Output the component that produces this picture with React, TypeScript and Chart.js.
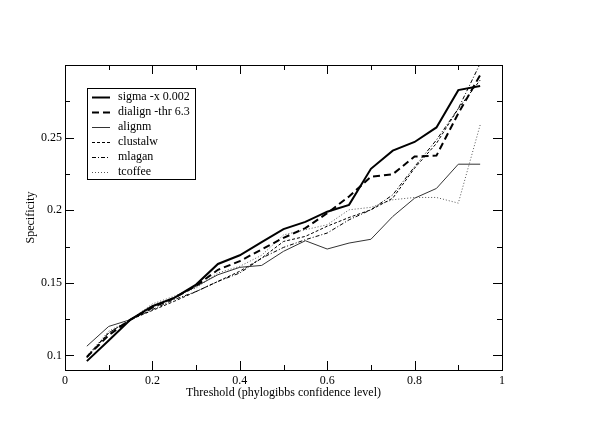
import React, { useEffect, useRef } from "react";
import { Chart, registerables } from "chart.js";

Chart.register(...registerables);

const thresholds = [0.05, 0.1, 0.15, 0.2, 0.25, 0.3, 0.35, 0.4, 0.45, 0.5, 0.55, 0.6, 0.65, 0.7, 0.75, 0.8, 0.85, 0.9, 0.95];
const sigma = [0.0961, 0.1103, 0.1247, 0.1339, 0.1396, 0.1488, 0.163, 0.169, 0.178, 0.187, 0.192, 0.199, 0.2037, 0.2285, 0.241, 0.247, 0.257, 0.2827, 0.2855];
const dialign = [0.099, 0.114, 0.1247, 0.133, 0.1396, 0.148, 0.159, 0.165, 0.173, 0.181, 0.1877, 0.198, 0.2095, 0.223, 0.2248, 0.237, 0.2376, 0.2667, 0.293];
const alignm = [0.1064, 0.12, 0.1247, 0.134, 0.1396, 0.1476, 0.1556, 0.1607, 0.162, 0.1717, 0.179, 0.1733, 0.1774, 0.18, 0.1957, 0.2083, 0.215, 0.2317, 0.2317];
const clustalw = [0.0984, 0.1156, 0.1247, 0.131, 0.1373, 0.144, 0.151, 0.158, 0.167, 0.1785, 0.182, 0.189, 0.195, 0.2003, 0.2083, 0.229, 0.246, 0.27, 0.2896];
const mlagan = [0.0995, 0.1156, 0.1247, 0.1316, 0.1385, 0.144, 0.151, 0.1568, 0.167, 0.1744, 0.1797, 0.1843, 0.1934, 0.2003, 0.2106, 0.23, 0.2484, 0.27, 0.301];
const tcoffee = [0.0995, 0.1167, 0.1247, 0.1355, 0.1408, 0.1465, 0.1568, 0.1614, 0.169, 0.183, 0.1866, 0.19, 0.2003, 0.202, 0.2072, 0.2088, 0.2088, 0.2049, 0.2587];

const seriesNames = ["sigma -x 0.002", "dialign -thr 6.3", "alignm", "clustalw", "mlagan", "tcoffee"];

const xMajorTicks = [0, 0.2, 0.4, 0.6, 0.8, 1];
const xMinorTicks = [0.1, 0.3, 0.5, 0.7, 0.9];
const yMajorTicks = [0.1, 0.15, 0.2, 0.25];
const yMinorTicks = [0.125, 0.175, 0.225, 0.275];

const FONT = "'Liberation Serif', 'Times New Roman', serif";

const fmt = (v: number) => String(Number(v.toFixed(3)));

const framePlugin = {
  id: "frameTicks",
  afterDraw(chart: any) {
    const { ctx, chartArea: a, scales } = chart;
    const xs = scales.x;
    const ys = scales.y;
    ctx.save();
    ctx.strokeStyle = "#000";
    ctx.lineWidth = 1;
    ctx.setLineDash([]);
    ctx.strokeRect(Math.round(a.left) + 0.5, Math.round(a.top) + 0.5, Math.round(a.right - a.left), Math.round(a.bottom - a.top));
    const drawX = (vals: number[], len: number) => {
      vals.forEach((v) => {
        const px = Math.round(xs.getPixelForValue(v)) + 0.5;
        ctx.beginPath();
        ctx.moveTo(px, a.bottom);
        ctx.lineTo(px, a.bottom - len);
        ctx.moveTo(px, a.top);
        ctx.lineTo(px, a.top + len);
        ctx.stroke();
      });
    };
    const drawY = (vals: number[], len: number) => {
      vals.forEach((v) => {
        const py = Math.round(ys.getPixelForValue(v)) + 0.5;
        ctx.beginPath();
        ctx.moveTo(a.left, py);
        ctx.lineTo(a.left + len, py);
        ctx.moveTo(a.right, py);
        ctx.lineTo(a.right - len, py);
        ctx.stroke();
      });
    };
    drawX(xMajorTicks, 9);
    drawX(xMinorTicks, 5);
    drawY(yMajorTicks, 9);
    drawY(yMinorTicks, 5);

    // legend
    const bx = a.left + 22;
    const by = a.top + 23;
    const bw = 108;
    const bh = 91;
    ctx.fillStyle = "#fff";
    ctx.fillRect(bx, by, bw, bh);
    ctx.strokeStyle = "#000";
    ctx.lineWidth = 1;
    ctx.strokeRect(Math.round(bx) + 0.5, Math.round(by) + 0.5, bw, bh);
    ctx.font = "12px " + FONT;
    ctx.textBaseline = "middle";
    ctx.textAlign = "left";
    chart.data.datasets.forEach((ds: any, i: number) => {
      const y = by + 8.5 + i * 15;
      ctx.save();
      ctx.strokeStyle = ds.borderColor;
      ctx.lineWidth = ds.borderWidth;
      ctx.setLineDash(ds.borderDash || []);
      ctx.beginPath();
      ctx.moveTo(bx + 5, Math.round(y) + 0.5);
      ctx.lineTo(bx + 23, Math.round(y) + 0.5);
      ctx.stroke();
      ctx.restore();
      ctx.fillStyle = "#000";
      ctx.fillText(ds.label, bx + 31, y + 0.5);
    });
    ctx.restore();
  },
};

export default function App() {
  const ref = useRef<HTMLCanvasElement | null>(null);
  useEffect(() => {
    if (!ref.current) return;
    const mk = (vals: number[]) => vals.map((v, i) => ({ x: thresholds[i], y: v }));
    const styles = [
      { data: sigma, color: "#000", width: 2, dash: [] as number[] },
      { data: dialign, color: "#000", width: 2, dash: [7, 4] },
      { data: alignm, color: "#333", width: 1, dash: [] as number[] },
      { data: clustalw, color: "#000", width: 1, dash: [3, 2] },
      { data: mlagan, color: "#000", width: 1, dash: [4, 2, 1, 2] },
      { data: tcoffee, color: "#555", width: 1, dash: [1, 2] },
    ];
    const chart = new Chart(ref.current, {
      type: "line",
      data: {
        datasets: styles.map((s, i) => ({
          label: seriesNames[i],
          data: mk(s.data),
          borderColor: s.color,
          borderWidth: s.width,
          borderDash: s.dash,
          pointRadius: 0,
          tension: 0,
          fill: false,
        })),
      },
      options: {
        animation: false,
        responsive: false,
        maintainAspectRatio: false,
        layout: { padding: { top: 65, right: 98, left: 0, bottom: 0 } },
        plugins: { legend: { display: false }, tooltip: { enabled: false } },
        scales: {
          x: {
            type: "linear",
            min: 0,
            max: 1,
            grid: { display: false, drawTicks: false },
            border: { display: false },
            ticks: {
              stepSize: 0.2,
              color: "#000",
              padding: 4,
              maxRotation: 0,
              font: { family: FONT, size: 12 },
              callback: (v: any) => fmt(Number(v)),
            },
            title: {
              display: true,
              text: "Threshold (phylogibbs confidence level)",
              color: "#000",
              font: { family: FONT, size: 12 },
              padding: { top: 0, bottom: 24 },
            },
            afterFit: (s: any) => {
              s.height = 54;
            },
          },
          y: {
            type: "linear",
            min: 0.09,
            max: 0.3,
            grid: { display: false, drawTicks: false },
            border: { display: false },
            ticks: {
              stepSize: 0.05,
              includeBounds: false,
              color: "#000",
              padding: 3,
              font: { family: FONT, size: 12 },
              callback: (v: any) => {
                const n = Number(v);
                return n >= 0.099 && n <= 0.26 ? fmt(n) : "";
              },
            },
            title: {
              display: true,
              text: "Specificity",
              color: "#000",
              font: { family: FONT, size: 12 },
              padding: { top: 24, bottom: 0 },
            },
            afterFit: (s: any) => {
              s.width = 65;
            },
          },
        },
      },
      plugins: [framePlugin],
    } as any);
    return () => chart.destroy();
  }, []);
  return (
    <div style={{ position: "fixed", left: 0, top: 0, width: 600, height: 424, background: "#fff" }}>
      <canvas ref={ref} width={600} height={424} style={{ width: 600, height: 424, display: "block" }} />
    </div>
  );
}
